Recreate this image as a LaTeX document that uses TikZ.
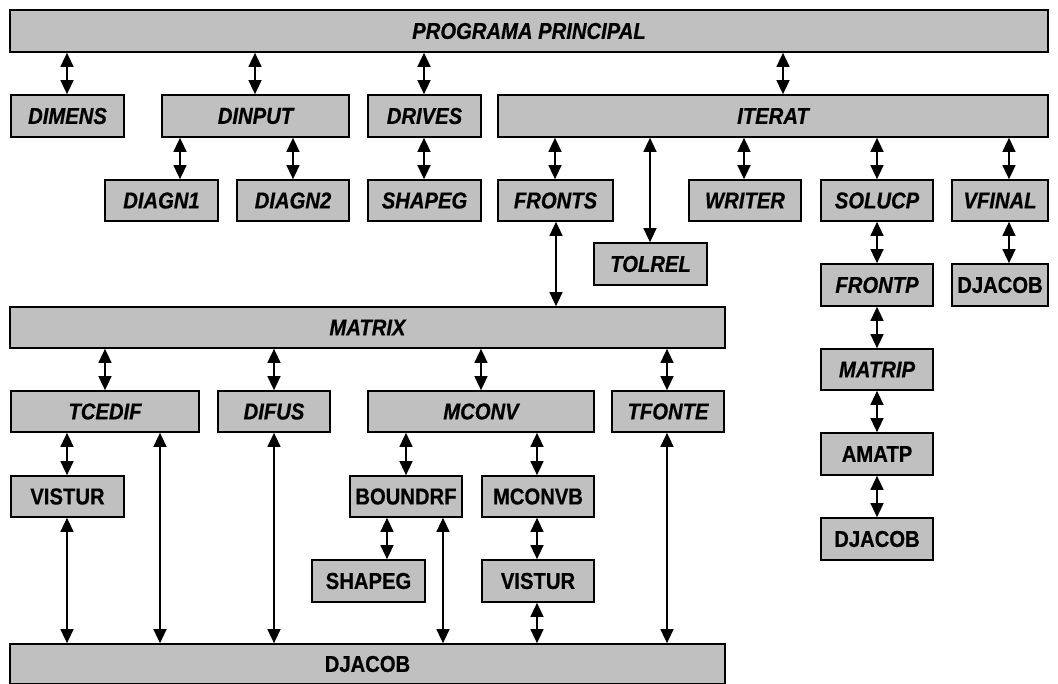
\documentclass[tikz,border=0pt]{standalone}
\usepackage{fontspec}
\setmainfont{Liberation Sans}
\newfontfamily\cfont[FakeStretch=0.88,BoldFeatures={FakeBold=0.6},BoldItalicFeatures={FakeBold=0.6}]{Liberation Sans}
\usetikzlibrary{arrows.meta}
\definecolor{boxgray}{HTML}{C0C0C0}
\tikzset{
  box/.style={draw=black, line width=1.7pt, fill=boxgray, inner sep=0pt, text=black},
  it/.style={font=\cfont\fontsize{23}{26}\selectfont\bfseries\itshape},
  up/.style={font=\cfont\fontsize{23}{26}\selectfont\bfseries},
  dbl/.style={line width=1.4pt, {Triangle[length=14pt,width=13pt]}-{Triangle[length=14pt,width=13pt]}}
}
\newcommand\bx[7]{%
  \pgfmathsetmacro\bxcx{(#2+#4)/2}%
  \pgfmathsetmacro\bxcy{(#3+#5)/2}%
  \pgfmathsetmacro\bxww{#4-#2}%
  \pgfmathsetmacro\bxhh{#5-#3}%
  \node[box,#6,minimum width=\bxww pt,minimum height=\bxhh pt] (#1) at (\bxcx,\bxcy) {#7};}
\newcommand\lnk[3]{%
  \path (#3,0) coordinate (lnkx);
  \draw[dbl] (#1.south -| lnkx) -- (#2.north -| lnkx);}
\begin{document}
\begin{tikzpicture}[x=1pt,y=-1pt]
\useasboundingbox (0,0) rectangle (1058,684);
% row 0
\bx{prog}{10}{10}{1048}{52}{it}{PROGRAMA PRINCIPAL}
% row 1
\bx{dimens}{11}{95}{124}{137}{it}{DIMENS}
\bx{dinput}{162}{95}{349}{137}{it}{DINPUT}
\bx{drives}{368}{95}{481}{137}{it}{DRIVES}
\bx{iterat}{498}{95}{1048}{137}{it}{ITERAT}
% row 2
\bx{diagna}{105}{180}{218}{221}{it}{DIAGN1}
\bx{diagnb}{237}{180}{349}{221}{it}{DIAGN2}
\bx{shapega}{368}{180}{481}{221}{it}{SHAPEG}
\bx{fronts}{498}{180}{613}{221}{it}{FRONTS}
\bx{writer}{689}{180}{801}{221}{it}{WRITER}
\bx{solucp}{821}{180}{933}{221}{it}{SOLUCP}
\bx{vfinal}{952}{180}{1048}{221}{it}{VFINAL}
\bx{tolrel}{594}{243}{707}{285}{it}{TOLREL}
% right column
\bx{djacobr}{952}{264}{1048}{306}{up}{DJACOB}
\bx{frontp}{821}{264}{933}{306}{it}{FRONTP}
\bx{matrip}{821}{349}{933}{390}{it}{MATRIP}
\bx{amatp}{821}{433}{933}{475}{up}{AMATP}
\bx{djacobs}{821}{518}{933}{560}{up}{DJACOB}
% matrix
\bx{matrix}{10}{307}{725}{348}{it}{MATRIX}
\bx{tcedif}{11}{391}{199}{432}{it}{TCEDIF}
\bx{difus}{218}{391}{330}{432}{it}{DIFUS}
\bx{mconv}{368}{391}{594}{432}{it}{MCONV}
\bx{tfonte}{612}{391}{724}{432}{it}{TFONTE}
\bx{vistura}{11}{476}{124}{517}{up}{VISTUR}
\bx{boundrf}{350}{476}{462}{517}{up}{BOUNDRF}
\bx{mconvb}{482}{476}{594}{517}{up}{MCONVB}
\bx{shapegb}{312}{560}{425}{602}{up}{SHAPEG}
\bx{visturb}{482}{560}{594}{602}{up}{VISTUR}
\bx{djacob}{10}{644}{725}{684}{up}{DJACOB}
% links
\lnk{prog}{dimens}{67}
\lnk{prog}{dinput}{255}
\lnk{prog}{drives}{424}
\lnk{prog}{iterat}{783}
\lnk{dinput}{diagna}{180}
\lnk{dinput}{diagnb}{293}
\lnk{drives}{shapega}{424}
\lnk{iterat}{fronts}{555}
\lnk{iterat}{tolrel}{650}
\lnk{iterat}{writer}{744}
\lnk{iterat}{solucp}{877}
\lnk{iterat}{vfinal}{1009}
\lnk{fronts}{matrix}{556}
\lnk{vfinal}{djacobr}{1009}
\lnk{solucp}{frontp}{877}
\lnk{frontp}{matrip}{877}
\lnk{matrip}{amatp}{877}
\lnk{amatp}{djacobs}{877}
\lnk{matrix}{tcedif}{105}
\lnk{matrix}{difus}{274}
\lnk{matrix}{mconv}{481}
\lnk{matrix}{tfonte}{667}
\lnk{tcedif}{vistura}{67}
\lnk{vistura}{djacob}{67}
\lnk{tcedif}{djacob}{160}
\lnk{difus}{djacob}{274}
\lnk{mconv}{boundrf}{406}
\lnk{mconv}{mconvb}{537}
\lnk{boundrf}{shapegb}{387}
\lnk{boundrf}{djacob}{443}
\lnk{mconvb}{visturb}{537}
\lnk{visturb}{djacob}{537}
\lnk{tfonte}{djacob}{667}
\end{tikzpicture}
\end{document}
